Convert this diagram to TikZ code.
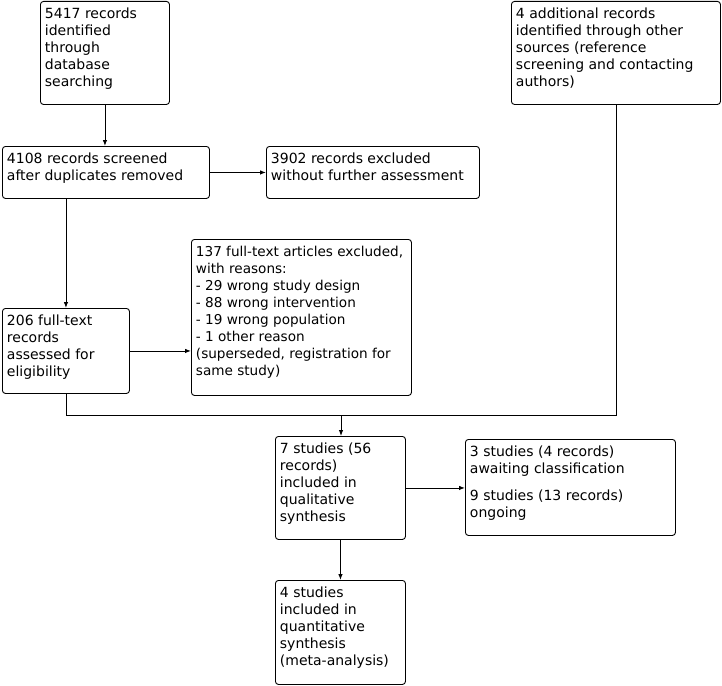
\documentclass[tikz,border=0pt]{standalone}
\usepackage{fontspec}
\setmainfont{DejaVu Sans}
\usetikzlibrary{arrows.meta}
\tikzset{
  box/.style={draw, line width=0.9pt, rounded corners=3pt, anchor=north west, inner xsep=4.5pt, inner ysep=6.5pt, font=\fontsize{14pt}{17pt}\selectfont},
  arr/.style={line width=0.9pt, -{Latex[length=6pt,width=4.5pt]}},
  ln/.style={line width=0.9pt}
}
\newcommand{\bt}[3]{\parbox[t][#2pt][t]{#1pt}{\raggedright #3}}
\begin{document}
\begin{tikzpicture}[x=1pt,y=-1pt]
\useasboundingbox (0,0) rectangle (722,685);
\node[box] (A) at (40,1) {\bt{120}{90}{5417 records\\identified\\through\\database\\searching}};
\node[box] (F) at (511,1) {\bt{200}{90}{4 additional records\\identified through other\\sources (reference\\screening and contacting\\authors)}};
\node[box] (B) at (2,146) {\bt{198}{39}{4108 records screened\\after duplicates removed}};
\node[box] (C) at (266,146) {\bt{204}{39}{3902 records excluded\\without further assessment}};
\node[box, font=\fontsize{13.6pt}{17pt}\selectfont] (D) at (191,239) {\bt{211}{143}{137 full-text articles excluded,\\with reasons:\\- 29 wrong study design\\- 88 wrong intervention\\- 19 wrong population\\- 1 other reason\\(superseded, registration for\\same study)}};
\node[box] (E) at (2,308) {\bt{118}{72}{206 full-text\\records\\assessed for\\eligibility}};
\node[box] (G) at (275,436) {\bt{121}{90}{7 studies (56\\records)\\included in\\qualitative\\synthesis}};
\node[box] (H) at (465,439) {\bt{201}{83}{3 studies (4 records)\\awaiting classification\\[10pt]9 studies (13 records)\\ongoing}};
\node[box] (I) at (275,580) {\bt{121}{91}{4 studies\\included in\\quantitative\\synthesis\\(meta-analysis)}};
\coordinate (J) at (341,415);
\draw[arr] (A.south) -- (A.south |- B.north);
\draw[arr] (B.east) -- (C.west);
\draw[arr] (E.north |- B.south) -- (E.north);
\draw[arr] (E.east) -- (E.east -| D.west);
\draw[ln] (E.south) -- (E.south |- J) -- (J -| F.south) -- (F.south);
\draw[arr] (J) -- (J |- G.north);
\draw[arr] (G.east) -- (G.east -| H.west);
\draw[arr] (G.south) -- (G.south |- I.north);
\end{tikzpicture}
\end{document}
